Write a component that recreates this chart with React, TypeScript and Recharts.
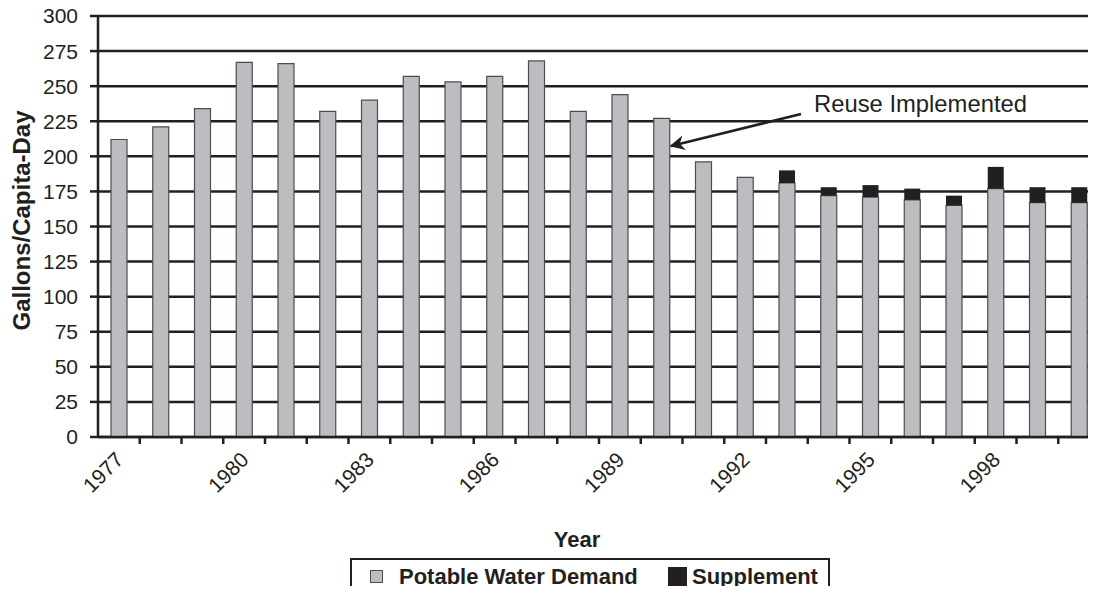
import React from "react";
import { BarChart, Bar, XAxis, YAxis, CartesianGrid } from "recharts";

// values (gallons per capita per day)
const YEARS = [
  "1977", "1978", "1979", "1980", "1981", "1982", "1983", "1984", "1985", "1986", "1987", "1988",
  "1989", "1990", "1991", "1992", "1993", "1994", "1995", "1996", "1997", "1998", "1999", "2000",
];
const POTABLE = [212, 221, 234, 267, 266, 232, 240, 257, 253, 257, 268, 232, 244, 227, 196, 185, 181, 172, 171, 169, 165, 177, 167, 167];
const SUPPLEMENT = [0, 0, 0, 0, 0, 0, 0, 0, 0, 0, 0, 0, 0, 0, 0, 0, 9, 6, 8.5, 8, 7, 15.5, 11, 11];
const Y_TICKS = [0, 25, 50, 75, 100, 125, 150, 175, 200, 225, 250, 275, 300];

const data = YEARS.map((year, i) => ({ year, potable: POTABLE[i], supplement: SUPPLEMENT[i] }));

const INK = "#231f20";
const GRAY = "#bcbdc0";
const FONT = "'Liberation Sans', Arial, Helvetica, sans-serif";

// chart geometry: plot area runs past the right edge (the scan is cropped)
const W = 1110;
const H = 594;
const Y_AXIS_W = 98;
const M_RIGHT = 10;
const BW = (W - Y_AXIS_W - M_RIGHT) / YEARS.length;

function YearTick({ x, y, payload, index }: any) {
  const lx = x + 6;
  const ly = y + 24;
  return (
    <g>
      {index < YEARS.length - 1 && (
        <line x1={x + BW / 2} x2={x + BW / 2} y1={y} y2={y + 7} stroke={INK} strokeWidth={2.5} />
      )}
      {index % 3 === 0 && (
        <text x={lx} y={ly} transform={`rotate(-45 ${lx} ${ly})`} textAnchor="end" fontSize={21} fill={INK} fontFamily={FONT}>
          {payload.value}
        </text>
      )}
    </g>
  );
}

export default function App() {
  return (
    <div style={{ position: "relative", width: 1096, height: 594, margin: -8, overflow: "hidden", background: "#fff", fontFamily: FONT }}>
      <BarChart width={W} height={H} data={data} margin={{ top: 16, right: M_RIGHT, left: 0, bottom: 0 }}>
        <CartesianGrid vertical={false} stroke={INK} strokeWidth={2.5} strokeOpacity={1} />
        <XAxis
          dataKey="year"
          interval={0}
          height={157}
          tickSize={0}
          tickMargin={0}
          tickLine={false}
          axisLine={{ stroke: INK, strokeWidth: 2.5 }}
          tick={<YearTick />}
          label={{
            content: ({ viewBox }: any) => (
              <text x={viewBox.x + viewBox.width / 2 - 22} y={viewBox.y + 110} textAnchor="middle" fontSize={22} fontWeight={700} fill={INK} fontFamily={FONT}>
                Year
              </text>
            ),
          }}
        />
        <YAxis
          width={Y_AXIS_W}
          domain={[0, 300]}
          ticks={Y_TICKS}
          interval={0}
          tickSize={8}
          tickMargin={12}
          tickLine={{ stroke: INK, strokeWidth: 2.5 }}
          axisLine={{ stroke: INK, strokeWidth: 2.5 }}
          tick={{ fill: INK, fontSize: 21, fontFamily: FONT }}
          label={{
            content: ({ viewBox }: any) => {
              const cx = 21;
              const cy = viewBox.y + viewBox.height / 2 - 6;
              return (
                <text x={cx} y={cy} transform={`rotate(-90 ${cx} ${cy})`} textAnchor="middle" dominantBaseline="central" fontSize={24} fontWeight={700} fill={INK} fontFamily={FONT}>
                  Gallons/Capita-Day
                </text>
              );
            },
          }}
        />
        <Bar dataKey="potable" stackId="a" barSize={16} fill={GRAY} stroke="#4d4d4f" strokeWidth={1.2} isAnimationActive={false} />
        <Bar dataKey="supplement" stackId="a" barSize={16} fill={INK} stroke="none" isAnimationActive={false} />
      </BarChart>

      {/* annotation */}
      <svg width={1096} height={594} style={{ position: "absolute", left: 0, top: 0, pointerEvents: "none" }}>
        <defs>
          <marker id="arrow" viewBox="0 0 10 10" refX="9" refY="5" markerWidth="7" markerHeight="6" orient="auto" markerUnits="strokeWidth">
            <path d="M0,0 L10,5 L0,10 L3,5 Z" fill={INK} />
          </marker>
        </defs>
        <text x={814} y={112} fontSize={23.8} fill={INK} fontFamily={FONT}>
          Reuse Implemented
        </text>
        <line x1={801} y1={114} x2={671} y2={146} stroke={INK} strokeWidth={2.5} markerEnd="url(#arrow)" />
      </svg>

      {/* legend */}
      <div style={{ position: "absolute", left: 350, top: 558, width: 476, height: 50, border: `2px solid ${INK}`, background: "#fff" }}>
        <div style={{ position: "absolute", left: 18, top: 10, width: 11, height: 11, background: GRAY, border: "1px solid #4d4d4f" }} />
        <div style={{ position: "absolute", left: 47, top: 4, fontSize: 22, fontWeight: 700, color: INK, lineHeight: "26px", whiteSpace: "nowrap" }}>
          Potable Water Demand
        </div>
        <div style={{ position: "absolute", left: 316, top: 7, width: 19, height: 19, background: INK }} />
        <div style={{ position: "absolute", left: 340, top: 4, fontSize: 22, fontWeight: 700, color: INK, lineHeight: "26px", whiteSpace: "nowrap" }}>
          Supplement
        </div>
      </div>
    </div>
  );
}
